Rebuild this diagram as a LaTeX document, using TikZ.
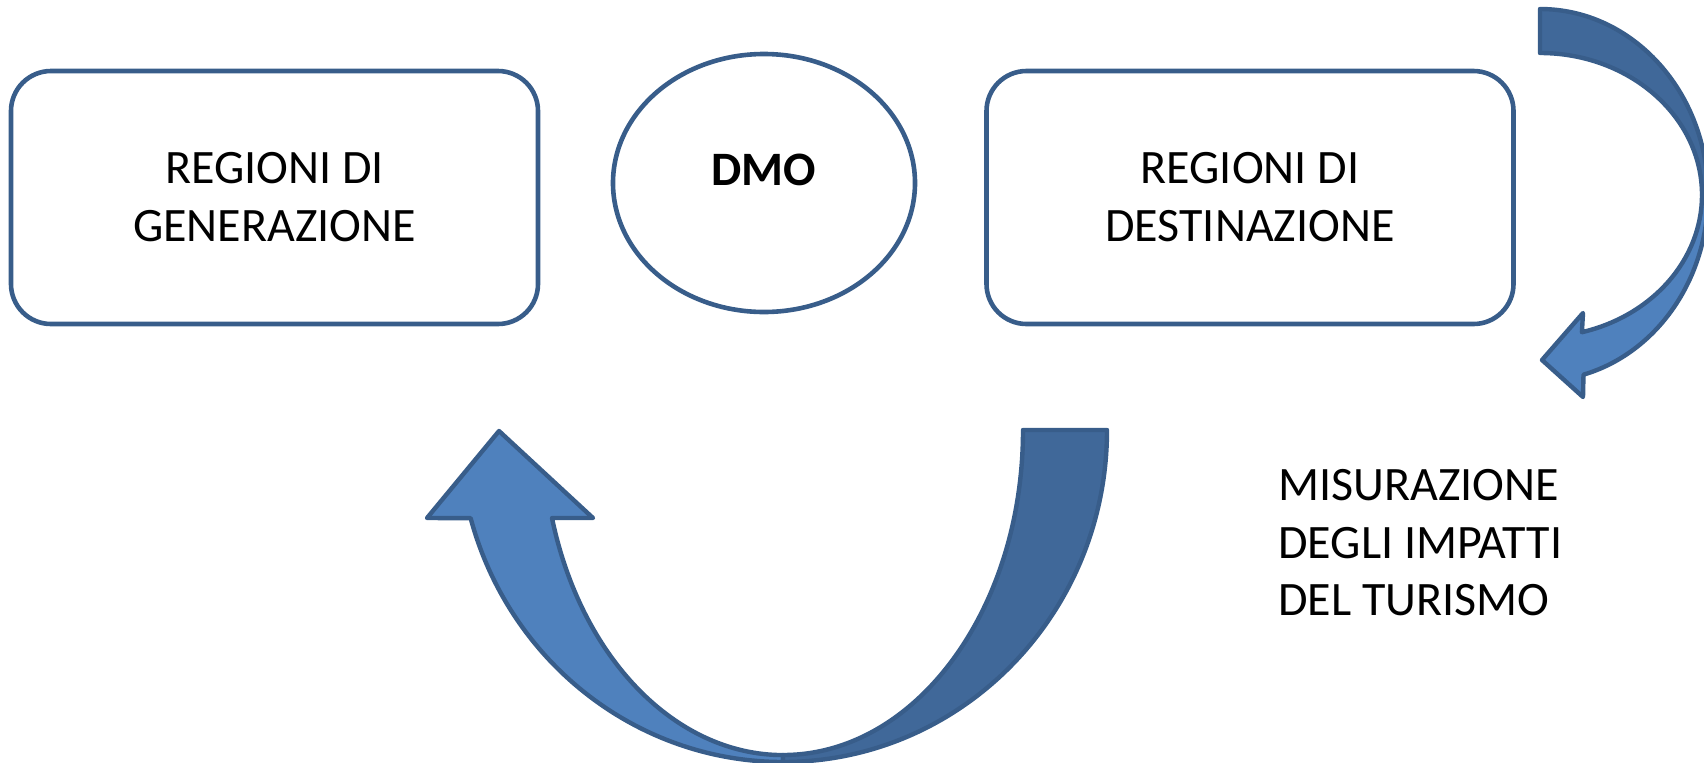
\documentclass[tikz,border=0pt]{standalone}
\usepackage{fontspec}
\setmainfont{Carlito}
\usepackage{xcolor}
\usetikzlibrary{shapes.geometric}
\definecolor{boxline}{HTML}{385D8A}
\definecolor{arrowlight}{HTML}{4F81BD}
\definecolor{arrowdark}{HTML}{406899}
\tikzset{
	regione/.style={
			draw=boxline, line width=2.3pt, rounded corners=20pt,
			minimum width=263.5pt, minimum height=126.5pt,
			align=center, font=\fontsize{24}{29}\selectfont
		},
	organo/.style={
			ellipse, draw=boxline, line width=2.3pt,
			minimum width=151pt, minimum height=129pt,
			text height=14.5pt, text depth=12.5pt,
			font=\fontsize{24}{29}\selectfont\bfseries
		},
	fronte/.style={fill=arrowlight, draw=boxline, line width=2.2pt, line join=round},
	retro/.style={fill=arrowdark, draw=boxline, line width=2.2pt, line join=round}
}

\begin{document}
\begin{tikzpicture}[x=0.5pt, y=-0.5pt]
			\useasboundingbox (0,0) rectangle (1704,762);

			\foreach \n/\x/\t in {generazione/274.5/GENERAZIONE, destinazione/1250/DESTINAZIONE} {
				\node[regione] (\n) at (\x, 197.5) {REGIONI DI\\\t};
			}
			\node[organo] (dmo) at (764, 183) {DMO};
			\node[anchor=west, inner sep=0pt, align=left, font=\fontsize{24}{28.75}\selectfont] (misura) at (1278, 543) {MISURAZIONE\\DEGLI IMPATTI\\DEL TURISMO};

			% freccia grande
			\draw[fronte] (783, 762) arc[start angle=90, end angle=164.6, x radius=324, y radius=332]
				-- (427, 518) -- (499, 431) -- (593, 518) -- (552, 518)
				arc[start angle=164.3, end angle=90, x radius=240, y radius=325] -- cycle;
			\draw[retro] (1107, 430) arc[start angle=0, end angle=90, x radius=324, y radius=332]
				-- (783, 755) arc[start angle=90, end angle=0, x radius=240, y radius=325] -- cycle;

			% freccia piccola
			\draw[fronte] (1708, 195) arc[start angle=0, end angle=75, x radius=168, y radius=186]
				-- (1583, 397) -- (1542, 360) -- (1583, 313) -- (1581.9, 332.2)
				arc[start angle=75, end angle=0, x radius=162, y radius=142] -- cycle;
			\draw[retro] (1540, 9) arc[start angle=-90, end angle=0, x radius=168, y radius=186]
				-- (1702, 195) arc[start angle=0, end angle=-90, x radius=162, y radius=142] -- cycle;
		\end{tikzpicture}
\end{document}
